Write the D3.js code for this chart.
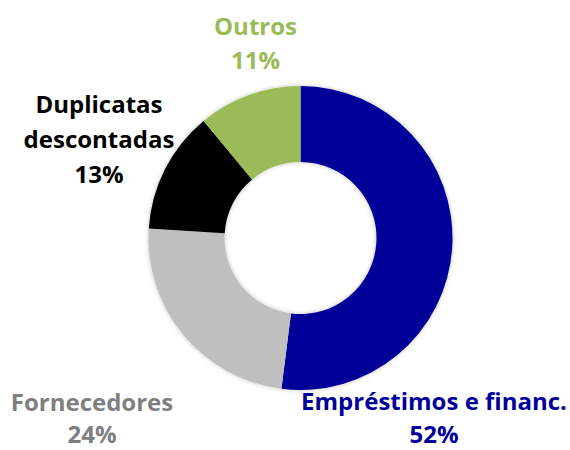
<!DOCTYPE html>
<html>
<head>
<meta charset="utf-8">
<script src="https://cdn.jsdelivr.net/npm/d3@7"></script>
<style>
  body { margin: 0; background: #fff; }
  text { font-family: "Open Sans", sans-serif; font-weight: bold; }
</style>
</head>
<body>
<div id="plot"></div>
<script>
// slices, clockwise from 12 o'clock
var names = ["Empréstimos e financ.", "Fornecedores", "Duplicatas descontadas", "Outros"];
var values = [52, 24, 13, 11];
var sliceColors = ["#000099", "#BFBFBF", "#000000", "#9BBB59"];
var textColors = ["#000099", "#7F7F7F", "#000000", "#9BBB59"];
// label lines as shown on the chart
var labelLines = [["Empréstimos e financ."], ["Fornecedores"], ["Duplicatas", "descontadas"], ["Outros"]];

var width = 570, height = 450;
var cx = 300.5, cy = 238;
var outerR = 152, innerR = 76;

// where each label block sits (center x, first baseline y, line step)
var labelPos = [[434, 410, 33], [92, 411, 32], [99, 113, 35], [255.5, 35, 34]];

var svg = d3.select("#plot")
  .append("svg")
  .attr("width", width)
  .attr("height", height);

var defs = svg.append("defs");
var f = defs.append("filter").attr("id", "glow")
  .attr("x", "-20%").attr("y", "-20%").attr("width", "140%").attr("height", "140%");
f.append("feDropShadow")
  .attr("dx", 0).attr("dy", 0)
  .attr("stdDeviation", 2)
  .attr("flood-color", "#000")
  .attr("flood-opacity", 0.25);

var pie = d3.pie().sort(null).value(function(d) { return d; });
var arc = d3.arc().innerRadius(innerR).outerRadius(outerR);

var g = svg.append("g")
  .attr("transform", "translate(" + cx + "," + cy + ")")
  .attr("filter", "url(#glow)");

g.selectAll("path")
  .data(pie(values))
  .enter()
  .append("path")
  .attr("d", arc)
  .attr("fill", function(d, i) { return sliceColors[i]; });

// labels
var labels = svg.selectAll("text.lbl")
  .data(names)
  .enter()
  .append("text")
  .attr("class", "lbl")
  .attr("text-anchor", "middle")
  .attr("font-size", 24)
  .attr("fill", function(d, i) { return textColors[i]; });

labels.each(function(d, i) {
  var t = d3.select(this);
  var lines = labelLines[i].concat([values[i] + "%"]);
  lines.forEach(function(s, k) {
    t.append("tspan")
      .attr("x", labelPos[i][0])
      .attr("y", labelPos[i][1] + k * labelPos[i][2])
      .text(s);
  });
});
</script>
</body>
</html>
